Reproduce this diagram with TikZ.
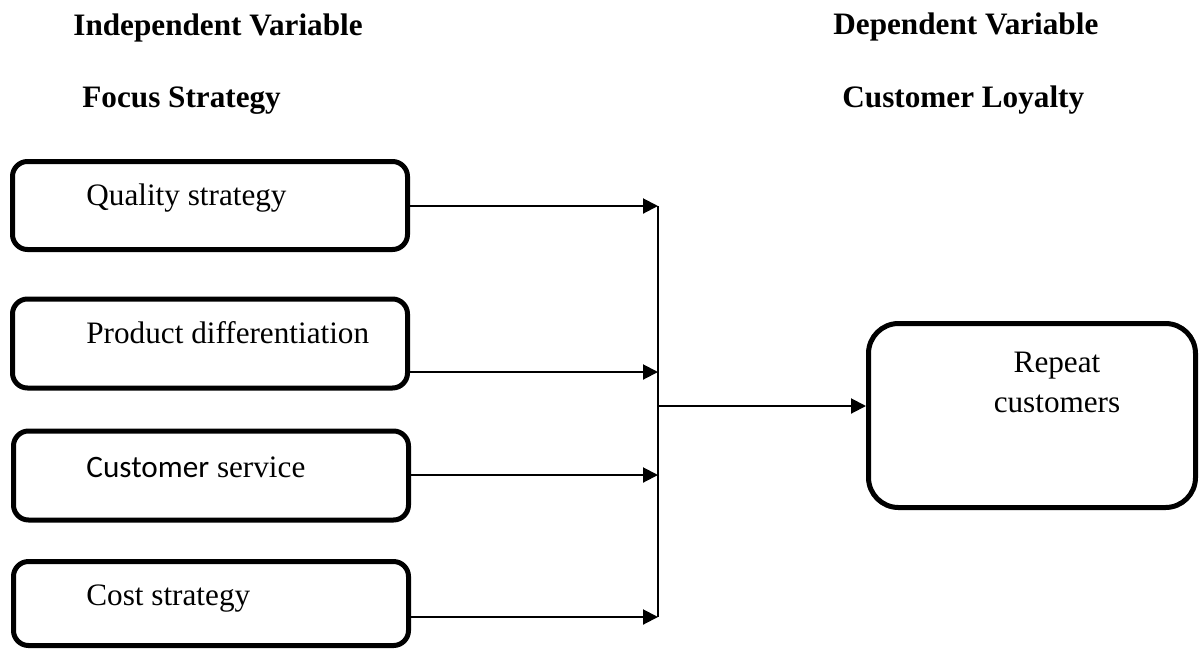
\documentclass[tikz,border=0pt]{standalone}
\usepackage{fontspec}
\setmainfont{Liberation Serif}
\newfontfamily\calfont{Carlito}
\usetikzlibrary{arrows.meta}
\begin{document}
\begin{tikzpicture}[x=0.5pt,y=-0.5pt,
  every node/.style={font=\fontsize{15.6pt}{20pt}\selectfont},
  varbox/.style={draw, line width=2.5pt, rounded corners=7.5pt, inner sep=0pt, minimum width=197.5pt},
  txt/.style={inner sep=0pt, anchor=base west},
  head/.style={inner sep=0pt, anchor=base west, font=\fontsize{15.6pt}{20pt}\selectfont\bfseries},
  arr/.style={line width=1pt, -{Triangle[length=7.5pt,width=7.5pt]}},
  ln/.style={line width=1pt}]
\useasboundingbox (0,0) rectangle (1199,649);

% headings
\node[head] (h1) at (73,35) {Independent Variable};
\node[head] (h2) at (82,107) {Focus Strategy};
\node[head] (h3) at (833,34) {Dependent Variable};
\node[head] (h4) at (842,107) {Customer Loyalty};

% left boxes
\node[varbox, minimum height=44pt] (b1) at (210,205.5) {};
\node[varbox, minimum height=44.5pt] (b2) at (210,343.5) {};
\node[varbox, minimum height=44.5pt] (b3) at (211,475.5) {};
\node[varbox, minimum height=42pt] (b4) at (211,603.5) {};

\node[txt] (t1) at (86,205) {Quality strategy};
\node[txt] (t2) at (86,343) {Product differentiation};
\node[txt] (t3) at (86,477) {{\calfont Customer} service};
\node[txt] (t4) at (86,605) {Cost strategy};

% right box
\node[draw, line width=2.5pt, rounded corners=15pt, inner sep=0pt,
      minimum width=163.5pt, minimum height=92pt] (rb) at (1032,415.5) {};
\node[inner sep=0pt, align=center, anchor=base] (rt) at (1057,412) {Repeat\\customers};

% connectors
\coordinate (a1) at (658,206);
\coordinate (a2) at (658,372);
\coordinate (a3) at (658,475);
\coordinate (a4) at (658,617);
\coordinate (j) at (658,406);

\draw[arr] (b1.east |- a1) -- (a1);
\draw[arr] (b2.east |- a2) -- (a2);
\draw[arr] (b3.east |- a3) -- (a3);
\draw[arr] (b4.east |- a4) -- (a4);
\draw[ln] (a1) -- (a4);
\draw[arr] (j) -- (rb.west |- j);
\end{tikzpicture}
\end{document}
